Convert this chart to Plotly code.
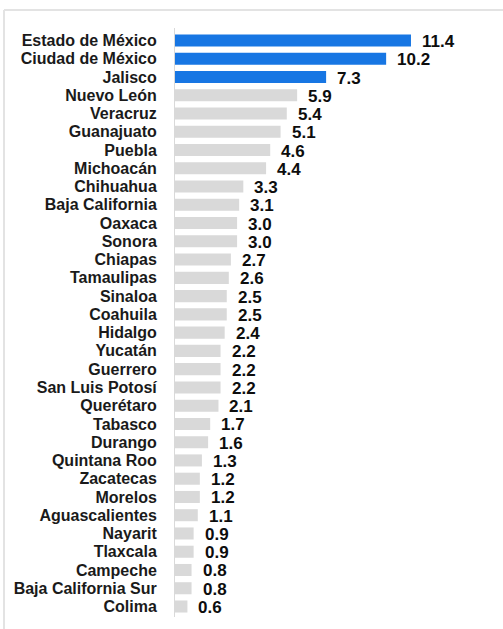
import plotly.graph_objects as go

states = ["Estado de México", "Ciudad de México", "Jalisco", "Nuevo León", "Veracruz",
          "Guanajuato", "Puebla", "Michoacán", "Chihuahua", "Baja California", "Oaxaca",
          "Sonora", "Chiapas", "Tamaulipas", "Sinaloa", "Coahuila", "Hidalgo", "Yucatán",
          "Guerrero", "San Luis Potosí", "Querétaro", "Tabasco", "Durango", "Quintana Roo",
          "Zacatecas", "Morelos", "Aguascalientes", "Nayarit", "Tlaxcala", "Campeche",
          "Baja California Sur", "Colima"]
values = [11.4, 10.2, 7.3, 5.9, 5.4, 5.1, 4.6, 4.4, 3.3, 3.1, 3.0, 3.0, 2.7, 2.6, 2.5, 2.5,
          2.4, 2.2, 2.2, 2.2, 2.1, 1.7, 1.6, 1.3, 1.2, 1.2, 1.1, 0.9, 0.9, 0.8, 0.8, 0.6]
highlight_count = 3

BLUE = "#1776e3"
GRAY = "#d9d9d9"
colors = [BLUE if i < highlight_count else GRAY for i in range(len(states))]

FONT = "Liberation Sans, Arial, sans-serif"

fig = go.Figure()
fig.add_trace(go.Bar(
    x=values, y=states, orientation="h",
    marker=dict(color=colors, line=dict(width=0)),
    width=0.66, hoverinfo="skip",
))

for s, v in zip(states, values):
    fig.add_annotation(
        x=v, y=s, xref="x", yref="y", text=f"<b>{v:.1f}</b>",
        showarrow=False, xanchor="left", yanchor="middle", xshift=9, yshift=-1,
        font=dict(family=FONT, size=17, color="#0d0d0d"),
    )

W, H = 503, 629
ml, mr, mt, mb = 175, 38, 28, 12
pw = W - ml - mr
ph = H - mt - mb

def px(xp):
    return (xp - ml) / pw

def py(yp):
    return (H - mb - yp) / ph

border = dict(color="#e3e3e3", width=2)
fig.add_shape(type="line", xref="paper", yref="paper",
              x0=px(4), x1=px(503), y0=py(10), y1=py(10), line=border)
fig.add_shape(type="line", xref="paper", yref="paper",
              x0=px(4), x1=px(4), y0=py(10), y1=py(629), line=border)

fig.update_layout(
    width=W, height=H,
    margin=dict(l=ml, r=mr, t=mt, b=mb),
    paper_bgcolor="white", plot_bgcolor="white",
    showlegend=False,
    font=dict(family=FONT, color="#1a1a1a"),
)
fig.update_xaxes(range=[0, pw / 20.7], visible=False, showgrid=False, zeroline=False)
fig.update_yaxes(
    categoryorder="array", categoryarray=states, autorange="reversed",
    tickmode="array", tickvals=states, ticktext=states,
    showline=True, linecolor="#d9d9d9", linewidth=1,
    showgrid=False, zeroline=False, ticks="",
    ticklabelstandoff=14,
    tickfont=dict(family=FONT, size=16, color="#1a1a1a", weight="bold"),
)

fig.write_html("out.html")
